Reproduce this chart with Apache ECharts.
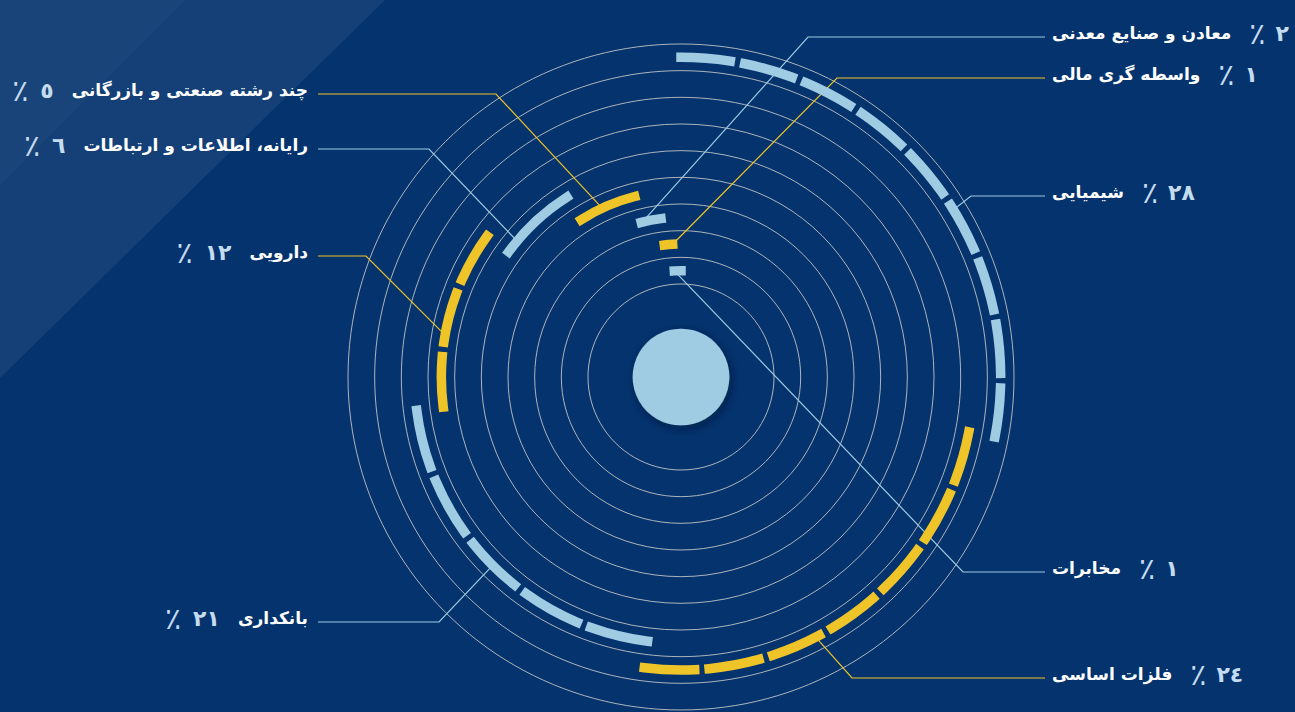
<!DOCTYPE html>
<html><head><meta charset="utf-8">
<script src="https://cdn.jsdelivr.net/npm/echarts@6/dist/echarts.min.js"></script>
<style>html,body{margin:0;padding:0;background:#04336e}#c{width:1295px;height:712px}</style>
</head><body><div id="c"></div>
<script>
// ring order, inner -> outer
const categories = ['مخابرات','واسطه گری مالی','معادن و صنایع معدنی','چند رشته صنعتی و بازرگانی','رایانه، اطلاعات و ارتباطات','دارویی','بانکداری','فلزات اساسی','شیمیایی'];
const values = [1, 1, 2, 5, 6, 12, 21, 24, 28];
const valueLabels = ['١','١','٢','٥','٦','١٢','٢١','٢٤','٢٨'];
// order of the arcs clockwise from 12 o'clock
const clockOrder = ['شیمیایی','فلزات اساسی','بانکداری','دارویی','رایانه، اطلاعات و ارتباطات','چند رشته صنعتی و بازرگانی','معادن و صنایع معدنی','واسطه گری مالی','مخابرات'];

// label layout (annotation placement only)
const labelLayout = {
  'مخابرات':                   {side: 1,  y: 572, elbowX: 963, frac: 0.0},
  'واسطه گری مالی':             {side: 1,  y: 78,  elbowX: 837, frac: 1.0},
  'معادن و صنایع معدنی':         {side: 1,  y: 37,  elbowX: 808, frac: 0.05},
  'چند رشته صنعتی و بازرگانی':   {side: -1, y: 94,  elbowX: 496, frac: 0.41},
  'رایانه، اطلاعات و ارتباطات':   {side: -1, y: 149, elbowX: 429, frac: 0.17},
  'دارویی':                    {side: -1, y: 256, elbowX: 366, frac: 0.40},
  'بانکداری':                  {side: -1, y: 622, elbowX: 439, frac: 0.50},
  'فلزات اساسی':               {side: 1,  y: 678, elbowX: 852, frac: 0.60},
  'شیمیایی':                   {side: 1,  y: 196, elbowX: 971, frac: 0.58}
};

const BLUE = '#9fcbe3', YELLOW = '#efc428';
const FONT = "'DejaVu Sans', sans-serif";

// build arc data: [ringIndex, start, end, value]
let acc = 0;
const startOf = {};
clockOrder.forEach(n => { startOf[n] = acc; acc += values[categories.indexOf(n)]; });
const arcData = categories.map((n, i) => [i, startOf[n], startOf[n] + values[i], values[i]]);

function renderArc(params, api) {
  const cs = params.coordSys, cx = cs.cx, cy = cs.cy;
  const ri = api.value(0);
  const p0 = api.coord([ri, api.value(1)]);
  const p1 = api.coord([ri, api.value(2)]);
  const r = Math.hypot(p0[0] - cx, p0[1] - cy);
  let a0 = Math.atan2(p0[1] - cy, p0[0] - cx);
  let a1 = Math.atan2(p1[1] - cy, p1[0] - cx);
  while (a1 <= a0 + 1e-6) a1 += Math.PI * 2;
  const L = r * (a1 - a0);
  const W = 9.5, G = 5;
  const n = Math.max(1, Math.round((L + G + W) / (62 + G)));
  const d = (L - (n - 1) * (G + W)) / n;
  const color = ri % 2 === 0 ? BLUE : YELLOW;
  const children = [{
    type: 'arc',
    shape: {cx: cx, cy: cy, r: r, startAngle: a0, endAngle: a1, clockwise: true},
    style: {stroke: color, lineWidth: W, fill: null, lineCap: 'square', lineDash: n > 1 ? [d, G + W] : null}
  }];
  if (params.dataIndex === 0) {
    children.push({
      type: 'circle',
      shape: {cx: cx, cy: cy, r: cs.r0 * 0.52},
      style: {fill: BLUE, shadowBlur: 10, shadowColor: 'rgba(0,10,40,0.55)', shadowOffsetX: 2, shadowOffsetY: 3}
    });
  }
  return {type: 'group', children: children};
}

function renderLeader(params, api) {
  const ri = api.value(0);
  const name = categories[ri];
  const lay = labelLayout[name];
  const s = api.value(1), e = api.value(2);
  const p = api.coord([ri, s + lay.frac * (e - s)]);
  const endX = lay.side > 0 ? 1045 : 318;
  const color = ri % 2 === 0 ? BLUE : YELLOW;
  const num = valueLabels[ri];
  const text = lay.side > 0
    ? '{n|' + name + '}{p|٪}{v|' + num + '}'
    : '{p|٪}{v|' + num + '}{n|' + name + '}';
  return {type: 'group', children: [
    {type: 'polyline', shape: {points: [p, [lay.elbowX, lay.y], [endX, lay.y]]},
     style: {stroke: color, lineWidth: 1.2, fill: null}},
    {type: 'text', x: lay.side > 0 ? 1052 : 308, y: lay.y - 4,
     style: {
       text: text, align: lay.side > 0 ? 'left' : 'right', verticalAlign: 'middle',
       rich: {
         n: {fontFamily: FONT, fontSize: 17, fontWeight: 'bold', fill: '#ffffff', verticalAlign: 'middle'},
         p: {fontFamily: FONT, fontSize: 30, fontWeight: 'normal', fill: '#c4dcee', padding: lay.side > 0 ? [0, 10, 0, 18] : [0, 12, 0, 0], verticalAlign: 'middle'},
         v: {fontFamily: FONT, fontSize: 22, fontWeight: 'bold', fill: '#c4dcee', padding: lay.side > 0 ? [0, 0, 0, 0] : [0, 18, 0, 0], verticalAlign: 'middle'}
       }
     }}
  ]};
}

const chart = echarts.init(document.getElementById('c'), null, {renderer: 'svg', width: 1295, height: 712});
chart.setOption({
  backgroundColor: '#04336e',
  animation: false,
  graphic: [
    {type: 'polygon', z: -10, shape: {points: [[0,0],[385,0],[0,378]]}, style: {fill: 'rgba(255,255,255,0.065)'}},
    {type: 'polygon', z: -10, shape: {points: [[0,0],[185,0],[0,185]]}, style: {fill: 'rgba(255,255,255,0.025)'}}
  ],
  polar: {center: [681, 377], radius: [93, 333]},
  angleAxis: {type: 'value', min: 0, max: 100, startAngle: 90, clockwise: true, show: false,
              axisLine: {show: false}, splitLine: {show: false}, axisLabel: {show: false}, axisTick: {show: false}},
  radiusAxis: {type: 'category', data: categories, boundaryGap: true,
               axisLine: {show: false}, axisTick: {show: false, interval: 0}, axisLabel: {show: false, interval: 0},
               splitLine: {show: true, interval: 0, lineStyle: {color: 'rgba(215,212,205,0.8)', width: 1}}},
  series: [
    {type: 'custom', coordinateSystem: 'polar', z: 2, silent: true, renderItem: renderLeader,
     encode: {radius: 0, angle: [1, 2]}, data: arcData},
    {type: 'custom', coordinateSystem: 'polar', z: 3, silent: true, renderItem: renderArc,
     encode: {radius: 0, angle: [1, 2]}, data: arcData}
  ]
});
</script>
</body></html>
